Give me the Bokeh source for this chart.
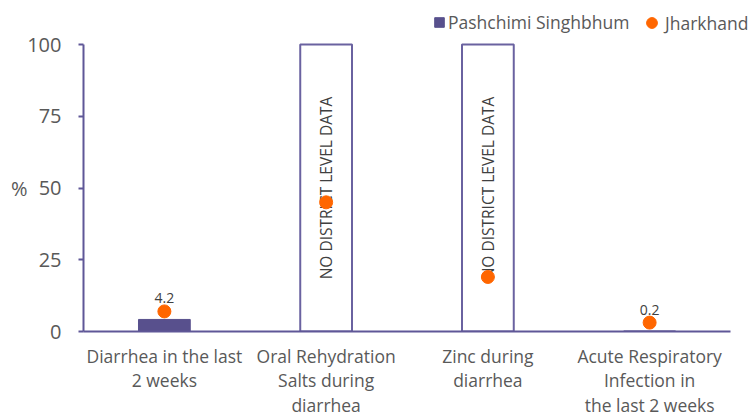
import math
from bokeh.plotting import figure
from bokeh.models import ColumnDataSource, Range1d, Legend, LegendItem, FixedTicker, LinearAxis
from bokeh.core.properties import value
from bokeh.embed import file_html
from bokeh.resources import INLINE

categories = [
    "Diarrhea in the last\n2 weeks",
    "Oral Rehydration\nSalts during\ndiarrhea",
    "Zinc during\ndiarrhea",
    "Acute Respiratory\nInfection in\nthe last 2 weeks",
]
district = [4.2, None, None, 0.2]
state = [7.0, 45.0, 19.0, 3.1]
district_label = ["4.2", "", "", "0.2"]
no_data_text = "NO DISTRICT LEVEL DATA"
y_ticks = [0, 25, 50, 75, 100]
y_title = "%"

FONT = "Open Sans"
PURPLE = "#58508d"
AXIS = "#5f5797"
ORANGE = "#ff6600"
GRAY = "#595959"
DARK = "#404040"

# layout (pixels)
FRAME_W, FRAME_H = 665, 331
PX_PER_CAT = 647 / 4
PX_PER_PCT = 287 / 100

n = len(categories)
xpos = [i + 0.5 for i in range(n)]
ymax = max(y_ticks)

p = figure(frame_width=FRAME_W, frame_height=FRAME_H, output_backend="svg", toolbar_location=None,
           x_range=Range1d(0, FRAME_W / PX_PER_CAT),
           y_range=Range1d(0, FRAME_H / PX_PER_PCT),
           min_border_left=83, min_border_right=0, min_border_top=0, min_border_bottom=0)
p.outline_line_color = None
p.xgrid.grid_line_color = None
p.ygrid.grid_line_color = None

has = [v is not None for v in district]
src_bar = ColumnDataSource(dict(
    x=[x for x, h in zip(xpos, has) if h],
    top=[v for v in district if v is not None],
    lab=[l for l, h in zip(district_label, has) if h],
))
src_na = ColumnDataSource(dict(
    x=[x for x, h in zip(xpos, has) if not h],
    top=[ymax for h in has if not h],
    mid=[ymax / 2 for h in has if not h],
    t=[no_data_text for h in has if not h],
))
src_state = ColumnDataSource(dict(x=xpos, y=state))

bars = p.vbar(x="x", top="top", width=0.32, source=src_bar, fill_color=PURPLE, line_color=PURPLE)
p.vbar(x="x", top="top", width=0.32, source=src_na, fill_color="white", line_color="#6a62a0", line_width=2)
p.text(x="x", y="mid", text="t", source=src_na, angle=math.pi / 2, text_align="center",
       text_baseline="middle", text_font=value(FONT), text_font_size="15.5px", text_color=DARK)
dots = p.scatter(x="x", y="y", source=src_state, size=13, color=ORANGE)
p.text(x="x", y="top", text="lab", source=src_bar, y_offset=-21, text_align="center",
       text_baseline="middle", text_font=value(FONT), text_font_size="14px", text_color=DARK)

p.yaxis.ticker = y_ticks
p.yaxis.bounds = (0, ymax)
p.yaxis.major_label_text_font = FONT
p.yaxis.major_label_text_font_size = "20px"
p.yaxis.major_label_text_color = GRAY
p.yaxis.major_label_standoff = 17
p.yaxis.axis_line_color = AXIS
p.yaxis.axis_line_width = 2
p.yaxis.major_tick_line_color = AXIS
p.yaxis.major_tick_line_width = 2
p.yaxis.major_tick_out = 5
p.yaxis.major_tick_in = 0
p.yaxis.minor_tick_line_color = None

# "%" title beside the 50 tick
title_axis = LinearAxis(ticker=FixedTicker(ticks=[ymax / 2]),
                        major_label_overrides={ymax / 2: y_title},
                        axis_line_color=None, major_tick_line_color=None,
                        minor_tick_line_color=None, major_tick_out=0, major_tick_in=0,
                        major_label_standoff=-3, major_label_text_font=FONT,
                        major_label_text_font_size="20px", major_label_text_color=GRAY)
p.add_layout(title_axis, "left")

p.xaxis.ticker = FixedTicker(ticks=xpos)
p.xaxis.major_label_overrides = {x: c for x, c in zip(xpos, categories)}
p.xaxis.bounds = (-6 / PX_PER_CAT, n)
p.xaxis.axis_line_color = AXIS
p.xaxis.axis_line_width = 2
p.xaxis.major_tick_line_color = None
p.xaxis.minor_tick_line_color = None
p.xaxis.major_label_text_font = FONT
p.xaxis.major_label_text_font_size = "17.5px"
p.xaxis.major_label_text_color = GRAY
p.xaxis.major_label_text_line_height = 1.03
p.xaxis.major_label_standoff = 6

leg1 = Legend(items=[LegendItem(label="Pashchimi Singhbhum", renderers=[bars])],
              location=(350, 297),
              label_text_font=FONT, label_text_font_size="17.5px", label_text_color=GRAY,
              glyph_width=12, glyph_height=12, label_standoff=3,
              padding=0, margin=0, border_line_color=None, background_fill_alpha=0)
leg2 = Legend(items=[LegendItem(label="Jharkhand", renderers=[dots])],
              location=(555, 295),
              label_text_font=FONT, label_text_font_size="17.5px", label_text_color=GRAY,
              glyph_width=27, glyph_height=27, label_standoff=-9,
              padding=0, margin=0, border_line_color=None, background_fill_alpha=0)
p.add_layout(leg1, "center")
p.add_layout(leg2, "center")

open("out.html", "w").write(file_html(p, INLINE))
